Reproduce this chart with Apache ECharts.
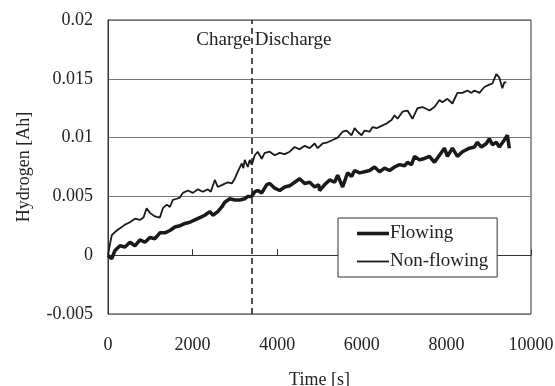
<!DOCTYPE html>
<html><head><meta charset="utf-8">
<script src="https://cdn.jsdelivr.net/npm/echarts@6/dist/echarts.min.js"></script>
<style>html,body{margin:0;padding:0;background:#fff}#c{width:555px;height:386px}</style>
</head><body><div id="c"></div>
<script>
var seriesNames = ['Flowing', 'Non-flowing'];
var xTicks = [0, 2000, 4000, 6000, 8000, 10000];
var yTicks = [-0.005, 0, 0.005, 0.01, 0.015, 0.02];
var switchTime = 3400;
var phaseLabels = ['Charge', 'Discharge'];

var flowingT = [0,87,165,283,401,519,637,755,873,991,1109,1227,1345,1463,1581,1699,1817,1935,2053,2171,2289,2407,2478,2596,2690,2761,2879,2997,3115,3233,3304,3399,3470,3540,3635,3753,3823,3941,4059,4177,4295,4413,4531,4650,4768,4886,4980,5004,5122,5240,5358,5429,5547,5664,5759,5830,5948,6066,6184,6302,6420,6538,6656,6774,6892,7010,7080,7175,7246,7364,7458,7482,7600,7718,7836,7954,8024,8142,8260,8379,8544,8662,8733,8827,8945,9016,9087,9181,9252,9370,9441,9488];
var flowingV = [0,-0.0003,0.0004,0.0008,0.0007,0.0011,0.0008,0.0013,0.0011,0.0015,0.0014,0.0019,0.0019,0.0021,0.0024,0.0025,0.0027,0.0028,0.003,0.0032,0.0034,0.0037,0.0034,0.0037,0.0041,0.0045,0.0048,0.0047,0.0047,0.0048,0.005,0.005,0.0054,0.0055,0.0053,0.006,0.0061,0.0057,0.0055,0.0058,0.0059,0.0062,0.0065,0.0061,0.0062,0.0058,0.006,0.0055,0.006,0.0064,0.0062,0.0068,0.0058,0.007,0.0067,0.0072,0.007,0.0071,0.0072,0.0075,0.0071,0.0074,0.0072,0.0075,0.0077,0.0076,0.0079,0.0077,0.0084,0.0081,0.0082,0.0081,0.0084,0.0079,0.0085,0.0091,0.0084,0.0091,0.0084,0.0088,0.0091,0.0092,0.0096,0.0092,0.0095,0.0099,0.0094,0.0096,0.0092,0.0098,0.0102,0.0091];

var nonFlowingT = [0,60,90,205,283,401,519,637,755,840,913,991,1109,1227,1298,1392,1463,1534,1628,1699,1770,1888,2006,2124,2242,2360,2430,2525,2596,2714,2832,2927,2997,3068,3163,3200,3233,3304,3351,3399,3470,3540,3635,3705,3823,3941,4059,4177,4295,4413,4531,4650,4768,4886,4956,5074,5192,5310,5429,5547,5641,5759,5830,5901,5995,6066,6184,6254,6349,6467,6585,6703,6774,6845,6962,7080,7198,7317,7435,7482,7600,7718,7836,7906,8024,8142,8260,8379,8497,8591,8662,8780,8898,9016,9087,9181,9252,9323,9370,9417];
var nonFlowingV = [0,0.0012,0.0017,0.0021,0.0023,0.0026,0.0028,0.0031,0.003,0.0032,0.004,0.0036,0.0033,0.0032,0.004,0.0043,0.0041,0.0047,0.0048,0.0049,0.0053,0.0055,0.0053,0.0056,0.0054,0.0056,0.0054,0.0064,0.0058,0.006,0.0062,0.0061,0.0065,0.0071,0.0078,0.0074,0.0081,0.0075,0.0081,0.0077,0.0085,0.0088,0.0082,0.0087,0.0088,0.0085,0.0087,0.0086,0.0088,0.0092,0.009,0.0093,0.0091,0.0095,0.0091,0.0095,0.0096,0.0098,0.01,0.0105,0.0106,0.0102,0.0108,0.0105,0.0102,0.0106,0.0105,0.0109,0.0108,0.011,0.0112,0.0115,0.0119,0.0116,0.0122,0.0123,0.0116,0.0125,0.0126,0.0125,0.0123,0.0126,0.0132,0.013,0.0133,0.0129,0.0138,0.0138,0.014,0.0138,0.014,0.0138,0.0143,0.0145,0.0146,0.0154,0.0151,0.0142,0.0147,0.0147];

function zip(a, b) { return a.map(function (t, i) { return [t, b[i]]; }); }

var FONT = '"Liberation Serif", "DejaVu Serif", serif';
var chart = echarts.init(document.getElementById('c'), null, {renderer: 'canvas'});
var option = {
  animation: false,
  textStyle: {fontFamily: FONT, color: '#222'},
  grid: {left: 108, right: 24, top: 20, bottom: 72, show: true, borderColor: '#333', borderWidth: 1,
    containLabel: false, outerBoundsMode: 'none'},
  legend: {
    left: 338, top: 218, orient: 'vertical',
    data: [
      {name: seriesNames[0], icon: 'path://M0,0M32,16M0,6.2H32V9.8H0Z'},
      {name: seriesNames[1], icon: 'path://M0,0M32,16M0,7.1H32V8.9H0Z'}
    ],
    backgroundColor: '#fff', borderColor: '#333', borderWidth: 1,
    padding: [6, 9, 6, 19], itemGap: 9, itemWidth: 32, itemHeight: 16,
    itemStyle: {color: '#1a1a1a', borderWidth: 0},
    textStyle: {fontFamily: FONT, fontSize: 19, color: '#222', padding: [0, 0, 0, -4]}
  },
  xAxis: {
    type: 'value', min: xTicks[0], max: xTicks[xTicks.length - 1], interval: 2000,
    name: 'Time [s]', nameLocation: 'middle', nameGap: 57,
    nameTextStyle: {fontFamily: FONT, fontSize: 18, color: '#222'},
    axisLine: {show: true, lineStyle: {color: '#333', width: 1}},
    axisTick: {show: true, inside: true, length: 6, lineStyle: {color: '#333'}},
    axisLabel: {fontFamily: FONT, fontSize: 18, color: '#222', margin: 22,
      formatter: function (v) { return String(v); }},
    splitLine: {show: false}
  },
  yAxis: {
    type: 'value', min: yTicks[0], max: yTicks[yTicks.length - 1], interval: 0.005,
    name: 'Hydrogen [Ah]', nameLocation: 'middle', nameGap: 75, nameRotate: 90,
    nameTextStyle: {fontFamily: FONT, fontSize: 18, color: '#222'},
    axisLine: {show: true, lineStyle: {color: '#333', width: 1}},
    axisTick: {show: false},
    axisLabel: {fontFamily: FONT, fontSize: 18, color: '#222', margin: 15,
      formatter: function (v) { return String(Math.round(v * 1000) / 1000); }},
    splitLine: {show: true, lineStyle: {color: '#777', width: 1}}
  },
  series: [
    {
      name: seriesNames[0], type: 'line', data: zip(flowingT, flowingV),
      symbol: 'none', lineStyle: {color: '#1a1a1a', width: 3.5}, itemStyle: {color: '#1a1a1a'},
      z: 3,
      markLine: {
        silent: true, symbol: 'none', label: {show: false},
        lineStyle: {color: '#1a1a1a', type: [6, 4], width: 1.5},
        data: [{xAxis: switchTime}]
      }
    },
    {
      name: seriesNames[1], type: 'line', data: zip(nonFlowingT, nonFlowingV),
      symbol: 'none', lineStyle: {color: '#1a1a1a', width: 1.8}, itemStyle: {color: '#1a1a1a'},
      z: 3
    }
  ]
};
chart.setOption(option);
var p = chart.convertToPixel({gridIndex: 0}, [switchTime, 0.0183]);
chart.setOption({
  graphic: [
    {type: 'text', x: p[0] - 1, y: p[1], style: {text: phaseLabels[0], font: '19px ' + FONT, fill: '#222', textAlign: 'right', textVerticalAlign: 'middle'}},
    {type: 'text', x: p[0] + 3, y: p[1], style: {text: phaseLabels[1], font: '19px ' + FONT, fill: '#222', textAlign: 'left', textVerticalAlign: 'middle'}}
  ]
});
</script></body></html>
